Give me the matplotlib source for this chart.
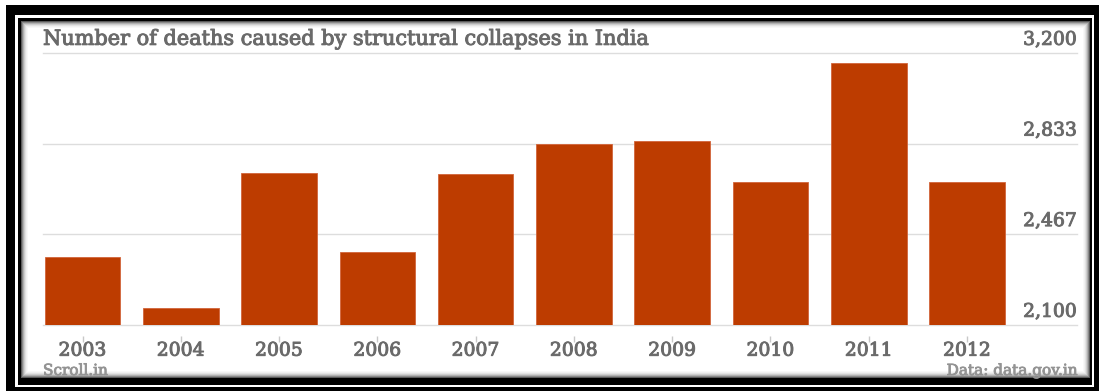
import matplotlib
matplotlib.use("Agg")
import matplotlib.pyplot as plt
import matplotlib.patheffects as pe
from matplotlib.patches import Rectangle
from matplotlib.transforms import blended_transform_factory

# Données
years = ["2003", "2004", "2005", "2006", "2007", "2008", "2009", "2010", "2011", "2012"]
deaths = [2374, 2168, 2715, 2395, 2711, 2832, 2844, 2678, 3161, 2678]
y_ticks = [2100, 2467, 2833, 3200]
y_labels = ["2,100", "2,467", "2,833", "3,200"]

W, H = 1099, 391
fig = plt.figure(figsize=(W / 100, H / 100), dpi=100)
fig.patch.set_facecolor("white")


def rect_px(x0, y0, x1, y1, color):
    # rectangle en pixels (origine en haut a gauche)
    fig.add_artist(Rectangle((x0 / W, 1 - y1 / H), (x1 - x0) / W, (y1 - y0) / H,
                             transform=fig.transFigure, facecolor=color,
                             edgecolor="none", zorder=-10))


# Cadre noir
rect_px(6, 5, 1099, 391, "black")
rect_px(15, 15, 1094, 387, "white")
rect_px(18, 18, 1092, 385, "black")
# ombre du panneau interieur
shades = ["#5a5a5a", "#8a8a8a", "#b0b0b0", "#cdcdcd", "#e2e2e2", "#f0f0f0", "#f8f8f8"]
for i, c in enumerate(shades):
    rect_px(21 + i, 21 + i, 1090 - i, 378 - i, c)
rect_px(28, 28, 1083, 371, "white")

txt = "#6a6a6a"
font = "DejaVu Serif"
# un peu plus gras que le regular
fx = [pe.withStroke(linewidth=0.7, foreground=txt)]
fx2 = [pe.withStroke(linewidth=0.6, foreground="#939393")]

# Axes
left, right, top, bottom = 43, 1077, 53, 325
ax = fig.add_axes([left / W, 1 - bottom / H, (right - left) / W, (bottom - top) / H])
ax.patch.set_alpha(0)

x = list(range(len(years)))
ax.bar(x, deaths, width=0.77, color="#bd3c00", edgecolor="#d2643a", linewidth=0.6,
       zorder=3)
ax.set_ylim(2100, 3200)
ax.set_xlim(-0.402, 10.119)

ax.spines["bottom"].set_position(("outward", 8))
for s in ax.spines.values():
    s.set_visible(False)

ax.set_yticks(y_ticks)
ax.yaxis.grid(True, color="#dddddd", linewidth=1)
for gl in ax.get_ygridlines():
    gl.set_clip_on(False)
ax.tick_params(axis="y", length=0, labelleft=False)

ax.set_xticks(x)
ax.set_xticklabels(years, fontsize=13.5, color=txt, family=font)
for t in ax.get_xticklabels():
    t.set_path_effects(fx)
ax.tick_params(axis="x", length=4, color="#c8c8c8", width=1, pad=0)
ax.set_axisbelow(True)

trans = blended_transform_factory(ax.transAxes, ax.transData)
for v, lab in zip(y_ticks, y_labels):
    ax.annotate(lab, (1.0, v), xycoords=trans, xytext=(0, 3), textcoords="offset points",
                ha="right", va="bottom", fontsize=13.5, color=txt,
                family=font, path_effects=fx)

ax.annotate("Number of deaths caused by structural collapses in India", (0.0, 3200),
            xycoords=trans, xytext=(0, 3), textcoords="offset points",
            ha="left", va="bottom", fontsize=15, color=txt,
            family=font, path_effects=fx)

fig.text(left / W, 1 - 371 / H, "Scroll.in", ha="left", va="center", fontsize=11,
         color="#939393", family=font, path_effects=fx2)
fig.text(right / W, 1 - 371 / H, "Data: data.gov.in", ha="right", va="center",
         fontsize=11, color="#939393", family=font, path_effects=fx2)

fig.savefig("out.png", dpi=100)
